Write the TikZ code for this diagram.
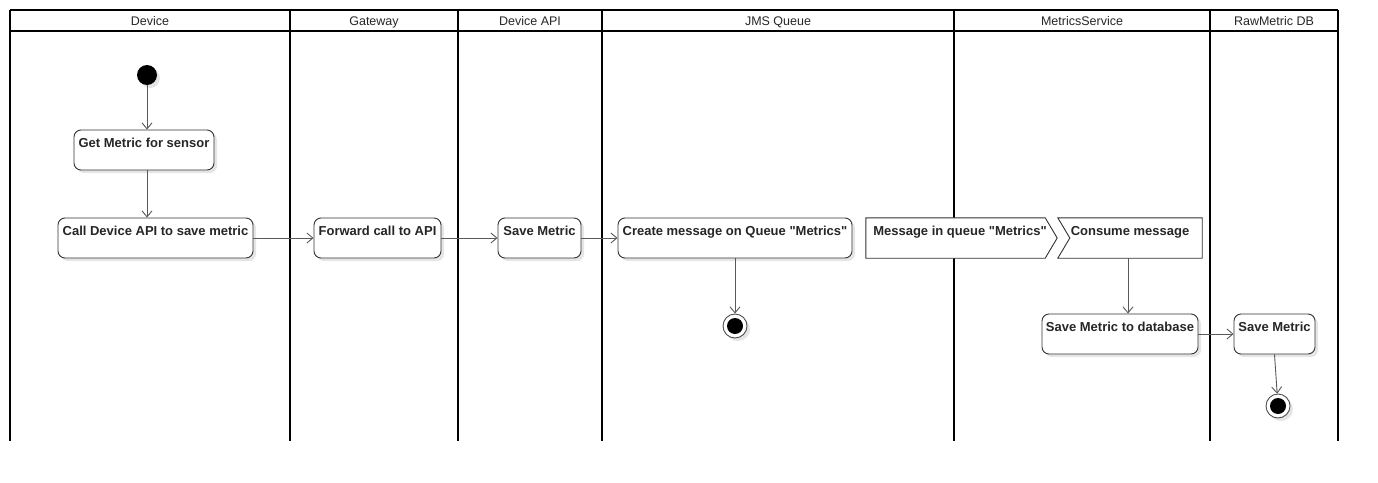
\documentclass[tikz,border=0pt]{standalone}
\usepackage{fontspec}
\setmainfont{Liberation Sans}[Ligatures=TeXOff]
\usetikzlibrary{arrows.meta,shadows}
\begin{document}
\begin{tikzpicture}[x=1pt,y=-1pt,
  lane/.style={line width=1.8pt,black},
  hdr/.style={font=\fontsize{12.5}{14}\selectfont,text=black!85,inner sep=0pt,anchor=base},
  shd/.style={drop shadow={shadow xshift=3pt,shadow yshift=-3pt,fill=black!10,opacity=1}},
  act/.style={draw=black!80,line width=0.9pt,rounded corners=7pt,fill=white,shd,
    text height=13pt,text depth=19pt,inner ysep=4pt,inner xsep=2pt,minimum height=40pt,
    font=\bfseries\fontsize{13}{15}\selectfont,text=black!85},
  evt/.style={text height=13pt,text depth=19pt,inner ysep=4pt,inner xsep=0pt,minimum height=40pt,
    font=\bfseries\fontsize{13}{15}\selectfont,text=black!85},
  evline/.style={draw=black!80,line width=0.9pt,fill=white},
  evshd/.style={fill=black!10,draw=none},
  startn/.style={circle,fill=black,minimum size=20pt,inner sep=0pt,shd},
  endn/.style={circle,draw=black!70,line width=0.9pt,fill=white,minimum size=24pt,inner sep=0pt,shd,
    path picture={\fill[black] (path picture bounding box.center) circle (8pt);}},
  flow/.style={draw=black!65,line width=0.9pt,-{Straight Barb[length=6pt,width=10pt]}}
]
\useasboundingbox (0,0) rectangle (1378,482);
% swimlanes
\draw[lane] (10,10) -- (1338,10);
\draw[lane] (10,31) -- (1338,31);
\foreach \xx in {10,290,458,602,954,1210,1338}{\draw[lane] (\xx,10) -- (\xx,441);}
\node[hdr] (h1) at (150,25.5) {Device};
\node[hdr] (h2) at (374,25.5) {Gateway};
\node[hdr] (h3) at (530,25.5) {Device API};
\node[hdr] (h4) at (778,25.5) {JMS Queue};
\node[hdr] (h5) at (1082,25.5) {MetricsService};
\node[hdr] (h6) at (1274,25.5) {RawMetric DB};
% nodes
\node[startn] (start) at (147,75) {};
\node[act,minimum width=140pt] (getm) at (144,150) {Get Metric for sensor};
\node[act,minimum width=195pt] (call) at (155.5,238) {Call Device API to save metric};
\node[act,minimum width=127pt] (fwd) at (377.5,238) {Forward call to API};
\node[act,minimum width=83pt] (saveapi) at (539.5,238) {Save Metric};
\node[act,minimum width=234pt] (create) at (735,238) {Create message on Queue "Metrics"};
\node[endn] (end1) at (735,326) {};
% signal shapes
\node[evt,minimum width=191pt] (msg) at (961.5,238) {};
\node[evt,minimum width=144pt] (cons) at (1130,238) {};
\fill[evshd,shift={(3,3)}] (msg.north west) -- ([xshift=-12pt]msg.north east) -- (msg.east) -- ([xshift=-12pt]msg.south east) -- (msg.south west) -- cycle;
\fill[evshd,shift={(3,3)}] (cons.north west) -- (cons.north east) -- (cons.south east) -- (cons.south west) -- ([xshift=12pt]cons.west) -- cycle;
\draw[evline] (msg.north west) -- ([xshift=-12pt]msg.north east) -- (msg.east) -- ([xshift=-12pt]msg.south east) -- (msg.south west) -- cycle;
\draw[evline] (cons.north west) -- (cons.north east) -- (cons.south east) -- (cons.south west) -- ([xshift=12pt]cons.west) -- cycle;
\node[evt] (msgt) at (960,238) {Message in queue "Metrics"};
\node[evt] (const) at (1130,238) {Consume message};
\node[act,minimum width=156pt] (savedb) at (1120,334) {Save Metric to database};
\node[act,minimum width=81pt] (saveraw) at (1274.5,334) {Save Metric};
\node[endn] (end2) at (1278,406) {};
% connectors
\draw[flow] (start) -- (start |- getm.north);
\draw[flow] (getm.south -| start) -- (call.north -| start);
\draw[flow] (call) -- (fwd);
\draw[flow] (fwd) -- (saveapi);
\draw[flow] (saveapi) -- (create);
\draw[flow] (create) -- (end1);
\draw[flow] ([xshift=-2pt]cons.south) -- ([xshift=-2pt]cons.south |- savedb.north);
\draw[flow] (savedb) -- (saveraw);
\draw[flow] (saveraw.south) -- (end2);
\end{tikzpicture}
\end{document}
